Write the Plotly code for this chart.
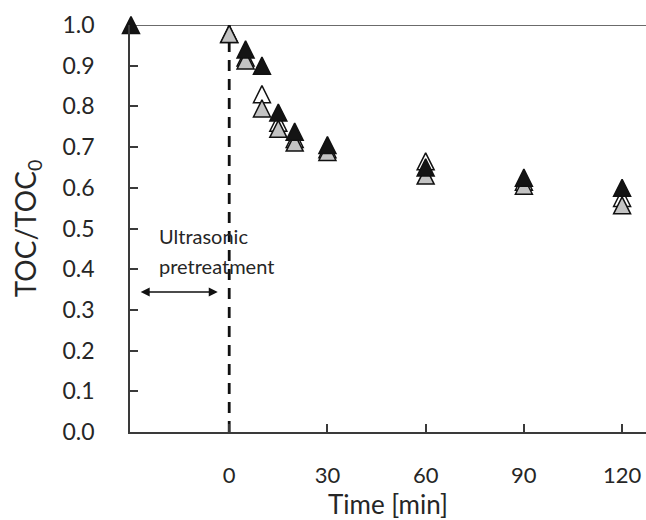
import plotly.graph_objects as go

# Time axis [min]; negative times are the ultrasonic pretreatment stage
time_black = [-30, 5, 10, 15, 20, 30, 60, 90, 120]
toc_black = [1.0, 0.94, 0.90, 0.785, 0.738, 0.705, 0.65, 0.625, 0.60]

time_gray = [0, 5, 10, 15, 20, 30, 60, 90, 120]
toc_gray = [0.978, 0.913, 0.795, 0.745, 0.711, 0.688, 0.63, 0.605, 0.557]

time_white = [0, 5, 10, 15, 20, 30, 60, 90, 120]
toc_white = [0.978, 0.92, 0.83, 0.76, 0.72, 0.695, 0.665, 0.615, 0.575]

x_ticks = [0, 30, 60, 90, 120]
y_ticks = [round(0.1 * i, 1) for i in range(11)]

FONT = "Lato"
AXIS_COLOR = "#3a3a3a"
TEXT_COLOR = "#262626"
MSIZE = 17


def tri_marker(fill):
    # arrow-down rotated 180 deg with standoff r gives an upright triangle
    # whose bounding box is centred on the data point
    return dict(symbol="arrow-down", angle=180, standoff=MSIZE / 2,
                size=MSIZE, color=fill,
                line=dict(color="#111111", width=1.5))


fig = go.Figure()
fig.add_trace(go.Scatter(x=time_white, y=toc_white, mode="markers",
                         marker=tri_marker("white"), cliponaxis=False))
fig.add_trace(go.Scatter(x=time_gray, y=toc_gray, mode="markers",
                         marker=tri_marker("#c3c3c3"), cliponaxis=False))
fig.add_trace(go.Scatter(x=time_black, y=toc_black, mode="markers",
                         marker=tri_marker("#141414"), cliponaxis=False))

# start of the TOC measurement after pretreatment
fig.add_shape(type="line", x0=0, x1=0, y0=0, y1=1.0, xref="x", yref="y",
              line=dict(color="#111111", width=2.8, dash="11px,8px"), layer="below")
# upper border at TOC/TOC0 = 1
fig.add_shape(type="line", x0=0, x1=1, xref="paper", y0=1.0, y1=1.0, yref="y",
              line=dict(color=AXIS_COLOR, width=1.5), layer="below")

# pretreatment span arrow
fig.add_annotation(x=-3.5, y=0.344, ax=-27.5, ay=0.344, xref="x", yref="y",
                   axref="x", ayref="y", text="", showarrow=True,
                   arrowhead=2, startarrowhead=2, arrowside="end+start",
                   arrowsize=1.2, startarrowsize=1.2, arrowwidth=1.5,
                   arrowcolor="#111111")
fig.add_annotation(x=-22, y=0.482, xref="x", yref="y", text="Ultrasonic",
                   showarrow=False, xanchor="left", yanchor="middle",
                   font=dict(family=FONT, size=20, color=TEXT_COLOR))
fig.add_annotation(x=-22, y=0.408, xref="x", yref="y", text="pretreatment",
                   showarrow=False, xanchor="left", yanchor="middle",
                   font=dict(family=FONT, size=20, color=TEXT_COLOR))

fig.update_layout(
    width=646, height=520,
    margin=dict(l=130, r=0, t=25, b=88),
    plot_bgcolor="white", paper_bgcolor="white",
    showlegend=False,
    font=dict(family=FONT, size=22, color=TEXT_COLOR),
    xaxis=dict(range=[-30.3, 127.3], tickvals=x_ticks,
               ticktext=[str(v) for v in x_ticks],
               showline=True, linecolor=AXIS_COLOR, linewidth=1.5,
               ticks="inside", ticklen=8, tickwidth=1.5, tickcolor=AXIS_COLOR,
               showgrid=False, zeroline=False, ticklabelstandoff=23,
               tickfont=dict(size=22),
               title=dict(text="Time [min]", font=dict(size=26), standoff=2)),
    yaxis=dict(range=[0, 1.0], tickvals=y_ticks,
               ticktext=[f"{v:.1f}" for v in y_ticks],
               showline=True, linecolor=AXIS_COLOR, linewidth=1.5,
               ticks="inside", ticklen=8, tickwidth=1.5, tickcolor=AXIS_COLOR,
               showgrid=False, zeroline=False, ticklabelstandoff=29,
               tickfont=dict(size=23),
               title=dict(text="TOC/TOC<sub>0</sub>", font=dict(size=28), standoff=18)),
)

fig.write_html("out.html")
